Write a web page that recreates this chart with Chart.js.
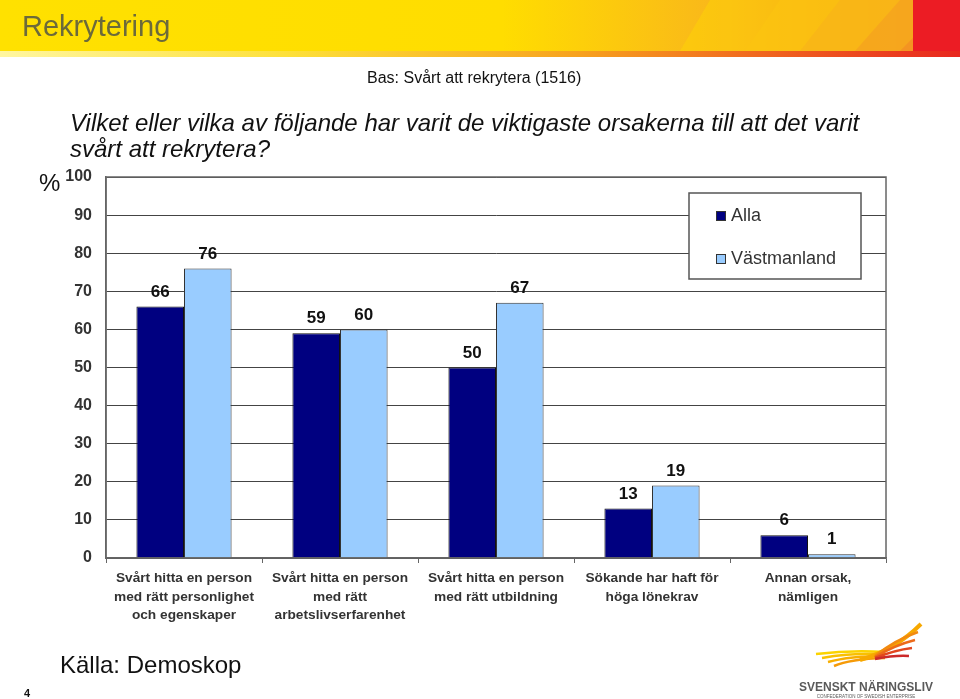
<!DOCTYPE html>
<html>
<head>
<meta charset="utf-8">
<script src="https://cdn.jsdelivr.net/npm/chart.js@4"></script>
<style>
  html, body { margin: 0; padding: 0; background: #fff; }
  #wrap { width: 960px; height: 699px; position: relative; }
</style>
</head>
<body>
<div id="wrap"><canvas id="graf" width="960" height="699"></canvas></div>
<script>
const kategorier = [
    ['Svårt hitta en person', 'med rätt personlighet', 'och egenskaper'],
    ['Svårt hitta en person', 'med rätt', 'arbetslivserfarenhet'],
    ['Svårt hitta en person', 'med rätt utbildning'],
    ['Sökande har haft för', 'höga lönekrav'],
    ['Annan orsak,', 'nämligen']
];
const alla = [66, 59, 50, 13, 6];
const vastmanland = [76, 60, 67, 19, 1];
const yTicks = [0, 10, 20, 30, 40, 50, 60, 70, 80, 90, 100];

const FONT = 'Arial, "Liberation Sans", sans-serif';

// rubrik, texter, legend, värden och logga ritas för hand
const sidaPlugin = {
    id: 'sida',
    beforeDraw(chart) {
        const c = chart.ctx;
        c.save();
        // gul banner
        const g = c.createLinearGradient(0, 0, 913, 0);
        g.addColorStop(0, '#ffe100');
        g.addColorStop(0.55, '#ffdd00');
        g.addColorStop(0.8, '#f9b51c');
        g.addColorStop(1, '#f07a25');
        c.fillStyle = g;
        c.fillRect(0, 0, 913, 51);
        // diagonala ränder
        const rander = [[620, '#fdd108'], [690, '#fbc511'], [750, '#f8b01b'], [810, '#f49a22'], [860, '#f28527']];
        rander.forEach(([x, col], i) => {
            c.fillStyle = col;
            c.globalAlpha = 0.55;
            c.beginPath();
            c.moveTo(x + 90, 0);
            c.lineTo(913, 0);
            c.lineTo(913, 51);
            c.lineTo(x + 60 - i * 5, 51);
            c.closePath();
            c.fill();
        });
        c.globalAlpha = 1;
        c.fillStyle = '#ec1c24';
        c.fillRect(913, 0, 47, 51);
        // tunn remsa under
        const s = c.createLinearGradient(0, 0, 960, 0);
        s.addColorStop(0, '#fff6a0');
        s.addColorStop(0.3, '#fde03a');
        s.addColorStop(0.6, '#f7a21e');
        s.addColorStop(1, '#e8271f');
        c.fillStyle = s;
        c.fillRect(0, 51, 960, 6);

        c.fillStyle = '#6c6a3a';
        c.font = '29px ' + FONT;
        c.textBaseline = 'middle';
        c.fillText('Rekrytering', 22, 28);

        c.fillStyle = '#111';
        c.font = '16px ' + FONT;
        c.fillText('Bas: Svårt att rekrytera (1516)', 367, 79);

        c.font = 'italic 24px ' + FONT;
        c.fillText('Vilket eller vilka av följande har varit de viktigaste orsakerna till att det varit', 70, 124);
        c.fillText('svårt att rekrytera?', 70, 150);

        c.font = '24px ' + FONT;
        c.fillText('%', 39, 184);

        c.font = '24px ' + FONT;
        c.fillText('Källa: Demoskop', 60, 666);
        c.font = 'bold 11px ' + FONT;
        c.fillText('4', 24, 694);
        c.restore();
    },
    afterDraw(chart) {
        const c = chart.ctx;
        const a = chart.chartArea;
        c.save();
        // ram runt diagramytan
        c.strokeStyle = '#666';
        c.lineWidth = 1.5;
        c.strokeRect(a.left, a.top, a.right - a.left, a.bottom - a.top);

        // värdeetiketter
        c.fillStyle = '#111';
        c.font = 'bold 17px ' + FONT;
        c.textAlign = 'center';
        c.textBaseline = 'bottom';
        chart.data.datasets.forEach((ds, i) => {
            chart.getDatasetMeta(i).data.forEach((bar, j) => {
                c.fillText(String(ds.data[j]), bar.x, bar.y - 6);
            });
        });

        // legend
        c.fillStyle = '#fff';
        c.fillRect(689, 193, 172, 86);
        c.strokeStyle = '#555';
        c.lineWidth = 1.5;
        c.strokeRect(689, 193, 172, 86);
        c.textAlign = 'left';
        c.textBaseline = 'middle';
        c.font = '18px ' + FONT;
        chart.data.datasets.forEach((ds, i) => {
            const y = 216 + i * 43;
            c.fillStyle = ds.backgroundColor;
            c.fillRect(716, y - 5, 10, 10);
            c.strokeStyle = '#333';
            c.lineWidth = 1;
            c.strokeRect(716.5, y - 4.5, 9, 9);
            c.fillStyle = '#333';
            c.fillText(ds.label, 731, y);
        });

        // logga: vinge
        const gula = ['#fbd300', '#f9c000', '#f7ae00', '#f59a08'];
        gula.forEach((col, i) => {
            c.strokeStyle = col;
            c.lineWidth = 2.5;
            c.beginPath();
            c.moveTo(816 + i * 6, 654 + i * 4);
            c.quadraticCurveTo(850, 650 + i * 3, 885, 652 + i * 2);
            c.stroke();
        });
        c.strokeStyle = '#f7a800';
        c.lineWidth = 4;
        c.beginPath();
        c.moveTo(860, 660);
        c.quadraticCurveTo(895, 650, 921, 624);
        c.stroke();
        const roda = ['#f28a10', '#ec6a1a', '#e2461f', '#cc2a2a'];
        roda.forEach((col, i) => {
            c.strokeStyle = col;
            c.lineWidth = 2.5;
            c.beginPath();
            c.moveTo(875, 656 + i);
            c.quadraticCurveTo(895, 640 + i * 5, 918 - i * 3, 632 + i * 8);
            c.stroke();
        });
        c.fillStyle = '#5a5a5a';
        c.font = 'bold 12px ' + FONT;
        c.textAlign = 'center';
        c.fillText('SVENSKT NÄRINGSLIV', 866, 688);
        c.font = '4.5px ' + FONT;
        c.fillText('CONFEDERATION OF SWEDISH ENTERPRISE', 866, 697);
        c.restore();
    }
};

new Chart(document.getElementById('graf'), {
    type: 'bar',
    data: {
        labels: kategorier,
        datasets: [
            {
                label: 'Alla',
                data: alla,
                backgroundColor: '#000080',
                borderColor: '#111',
                borderWidth: 1
            },
            {
                label: 'Västmanland',
                data: vastmanland,
                backgroundColor: '#99ccff',
                borderColor: '#333',
                borderWidth: 1
            }
        ]
    },
    options: {
        responsive: false,
        animation: false,
        devicePixelRatio: 1,
        layout: { padding: { left: 0, right: 74, top: 177, bottom: 71 } },
        datasets: { bar: { categoryPercentage: 0.61, barPercentage: 1 } },
        plugins: {
            legend: { display: false },
            tooltip: { enabled: false }
        },
        scales: {
            x: {
                afterFit(scale) { scale.height = 70; },
                grid: {
                    drawOnChartArea: false,
                    color: '#666',
                    tickLength: 5,
                    offset: true
                },
                border: { color: '#666', width: 1.5 },
                ticks: {
                    color: '#333',
                    padding: 6,
                    maxRotation: 0,
                    autoSkip: false,
                    font: { family: FONT, size: 13.7, weight: 'bold', lineHeight: 1.36 }
                }
            },
            y: {
                min: 0,
                max: 100,
                afterFit(scale) { scale.width = 106; },
                afterBuildTicks(scale) { scale.ticks = yTicks.map(v => ({ value: v })); },
                grid: { color: '#444', lineWidth: 1, drawTicks: false },
                border: { color: '#666', width: 1.5 },
                ticks: {
                    color: '#333',
                    padding: 14,
                    font: { family: FONT, size: 16, weight: 'bold' }
                }
            }
        }
    },
    plugins: [sidaPlugin]
});
</script>
</body>
</html>
